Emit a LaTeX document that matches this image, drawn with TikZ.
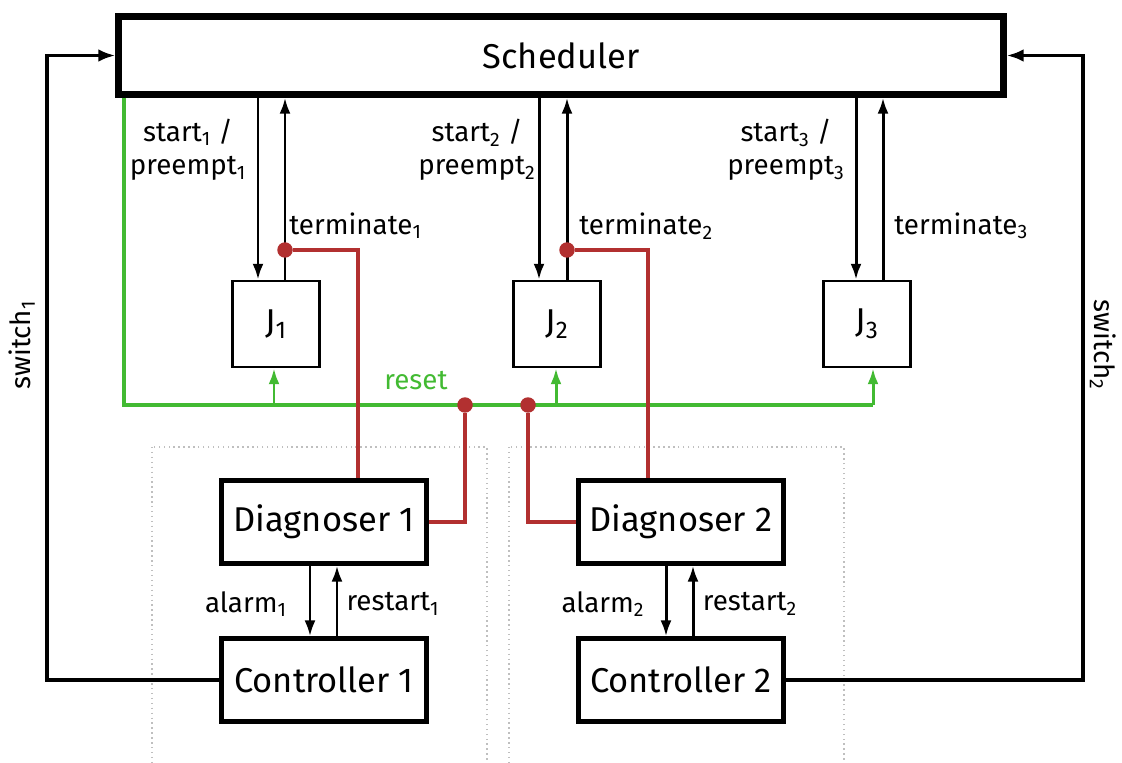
\documentclass[tikz,border=0pt]{standalone}
\usepackage{fontspec}
\setmainfont{Fira Sans}
\usetikzlibrary{arrows.meta}
\definecolor{resetgreen}{RGB}{66,186,50}
\definecolor{faultred}{RGB}{178,48,48}
\def\idx#1{\textsubscript{#1}}
\tikzset{
  block/.style={draw, line width=2.4pt, minimum width=4.1cm, minimum height=1.66cm, font=\fontsize{19.6}{22}\selectfont},
  job/.style={draw, line width=1.4pt, minimum width=1.74cm, minimum height=1.72cm, font=\fontsize{19.6}{22}\selectfont},
  sig/.style={line width=1.7pt, -{Latex[length=0.32cm,width=0.22cm]}},
  lbl/.style={font=\fontsize{15.8}{19}\selectfont, align=center, inner sep=0pt},
  rst/.style={line width=2pt, draw=resetgreen},
  flt/.style={line width=2pt, draw=faultred},
  tap/.style={circle, fill=faultred, inner sep=0pt, minimum size=0.31cm}
}

\begin{document}
\begin{tikzpicture}[x=0.02cm, y=-0.02cm]
	%%%%% START %%%%%
	\useasboundingbox (0,0) rectangle (1122,763);
	
	% groups
	\draw[gray!50, dotted, line width=0.8pt] (152,447) rectangle (487,790);
	\draw[gray!50, dotted, line width=0.8pt] (509,447) rectangle (844,790);
	
	\node[draw, line width=3.6pt, minimum width=17.7cm, minimum height=1.56cm, font=\fontsize{19.6}{22}\selectfont] (sched) at (561,55.5) {Scheduler};
	
	\node[job] (j1) at (276,324) {J\idx{1}};
	\node[job] (j2) at (557,324) {J\idx{2}};
	\node[job] (j3) at (867,324) {J\idx{3}};
	
	\node[block] (diag1) at (324,522) {Diagnoser 1};
	\node[block] (ctrl1) at (324,680) {Controller 1};
	\node[block] (diag2) at (681,522) {Diagnoser 2};
	\node[block] (ctrl2) at (681,680) {Controller 2};
	
	% scheduler <-> jobs
	\draw[sig] (sched.south -| 258,0) -- (258,0 |- j1.north);
	\draw[sig] (285,0 |- j1.north) -- (sched.south -| 285,0);
	\draw[sig] (sched.south -| 539,0) -- (539,0 |- j2.north);
	\draw[sig] (567,0 |- j2.north) -- (sched.south -| 567,0);
	\draw[sig] (sched.south -| 856,0) -- (856,0 |- j3.north);
	\draw[sig] (883,0 |- j3.north) -- (sched.south -| 883,0);
	
	\node[lbl] (st1) at (188,150) {start\idx{1} /\\preempt\idx{1}};
	\node[lbl] (st2) at (477,150) {start\idx{2} /\\preempt\idx{2}};
	\node[lbl] (st3) at (786,150) {start\idx{3} /\\preempt\idx{3}};
	\node[lbl, anchor=west] (tm1) at (289,226) {terminate\idx{1}};
	\node[lbl, anchor=west] (tm2) at (579,226) {terminate\idx{2}};
	\node[lbl, anchor=west] (tm3) at (894,226) {terminate\idx{3}};
	
	% reset
	\draw[rst] (sched.south -| 124,0) -- (124,405) -- (873,405);
	\draw[rst, sig, draw=resetgreen] (873,405) -- (873,0 |- j3.south);
	\draw[rst, sig, draw=resetgreen] (274,405) -- (274,0 |- j1.south);
	\draw[rst, sig, draw=resetgreen] (556,405) -- (556,0 |- j2.south);
	\node[lbl, text=resetgreen] (rs) at (416,381) {reset};
	
	% diagnoser taps
	\node[tap] (t1) at (285,250) {};
	\node[tap] (t2) at (567,250) {};
	\node[tap] (r1) at (465,405) {};
	\node[tap] (r2) at (528,405) {};
	\draw[flt] (t1) -- (358,250) -- (358,0 |- diag1.north);
	\draw[flt] (t2) -- (648,250) -- (648,0 |- diag2.north);
	\draw[flt] (r1) -- (465,0 |- diag1.east) -- (diag1.east);
	\draw[flt] (r2) -- (528,0 |- diag2.west) -- (diag2.west);
	
	% diagnoser <-> controller
	\draw[sig] (diag1.south -| 310,0) -- (310,0 |- ctrl1.north);
	\draw[sig] (337,0 |- ctrl1.north) -- (diag1.south -| 337,0);
	\draw[sig] (diag2.south -| 666,0) -- (666,0 |- ctrl2.north);
	\draw[sig] (693,0 |- ctrl2.north) -- (diag2.south -| 693,0);
	\node[lbl] (al1) at (246,604) {alarm\idx{1}};
	\node[lbl] (rt1) at (393,604) {restart\idx{1}};
	\node[lbl] (al2) at (603,604) {alarm\idx{2}};
	\node[lbl] (rt2) at (750,604) {restart\idx{2}};
	
	% switches
	\draw[sig, line width=1.9pt, -{Latex[length=0.34cm,width=0.25cm]}] (ctrl1.west) -- (47,0 |- ctrl1.west) -- (47,55.5) -- (sched.west);
	\draw[sig, line width=1.9pt, -{Latex[length=0.34cm,width=0.25cm]}] (ctrl2.east) -- (1083,0 |- ctrl2.east) -- (1083,55.5) -- (sched.east);
	\node[lbl, rotate=90] (sw1) at (22,345) {switch\idx{1}};
	\node[lbl, rotate=-90] (sw2) at (1103,345) {switch\idx{2}};
	
	%%%%% END %%%%%
\end{tikzpicture}
\end{document}
